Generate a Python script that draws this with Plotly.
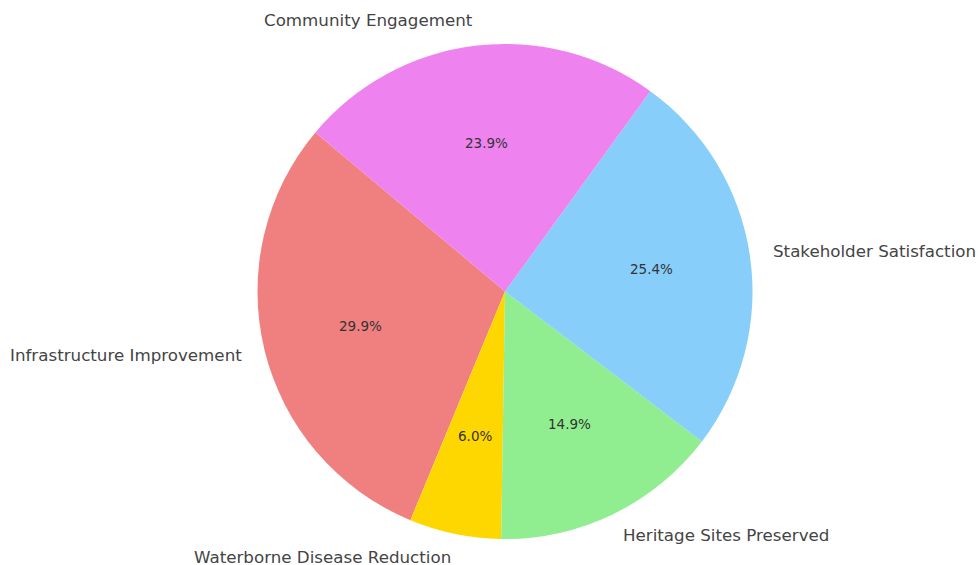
import math
import plotly.graph_objects as go

labels = ["Infrastructure Improvement", "Waterborne Disease Reduction", "Heritage Sites Preserved",
          "Stakeholder Satisfaction", "Community Engagement"]
values = [29.9, 6.0, 14.9, 25.4, 23.9]
colors = ["#F08080", "#FFD700", "#90EE90", "#87CEFA", "#EE82EE"]
start_angle = 140  # degrees, counterclockwise from 3 o'clock

W, H = 979, 565
MT, MB = 44, 26
CX, CY, R = 505.0, 291.5, 247.5
plot_h = H - MT - MB

total = sum(values)
# plotly (counterclockwise): first slice ends at `rotation` (clockwise from 12 o'clock)
rot = -(start_angle - 90) - 360 * values[0] / total

fig = go.Figure(go.Pie(
    labels=labels, values=values, sort=False, direction="counterclockwise",
    rotation=rot, marker=dict(colors=colors, line=dict(width=0)),
    textinfo="none", hoverinfo="label+percent", showlegend=False,
    domain=dict(x=[2 * CX / W - 1, 1.0], y=[0, 1]),
))

ann = []
ang = start_angle
for lab, v in zip(labels, values):
    span = 360 * v / total
    mid = math.radians(ang + span / 2)
    ang += span
    c, s = math.cos(mid), math.sin(mid)
    lx = CX + 1.1 * R * c
    ly = CY - 1.1 * R * s
    ann.append(dict(x=lx / W, y=(H - MB - ly) / plot_h, xref="paper", yref="paper",
                    text=lab, showarrow=False, xanchor="left" if c > 0 else "right",
                    xshift=-2 if c > 0 else 2, yshift=1, borderpad=0,
                    yanchor="middle", font=dict(family="DejaVu Sans", size=16.7, color="#444444")))
    px = CX + 0.6 * R * c
    py = CY - 0.6 * R * s
    ann.append(dict(x=px / W, y=(H - MB - py) / plot_h, xref="paper", yref="paper",
                    text=f"{100 * v / total:.1f}%", showarrow=False, xanchor="center",
                    yanchor="middle", yshift=1,
                    font=dict(family="DejaVu Sans", size=13.5, color="#333333")))

fig.update_layout(width=W, height=H, margin=dict(l=0, r=0, t=MT, b=MB),
                  paper_bgcolor="white", plot_bgcolor="white", annotations=ann)
fig.write_html("out.html")
